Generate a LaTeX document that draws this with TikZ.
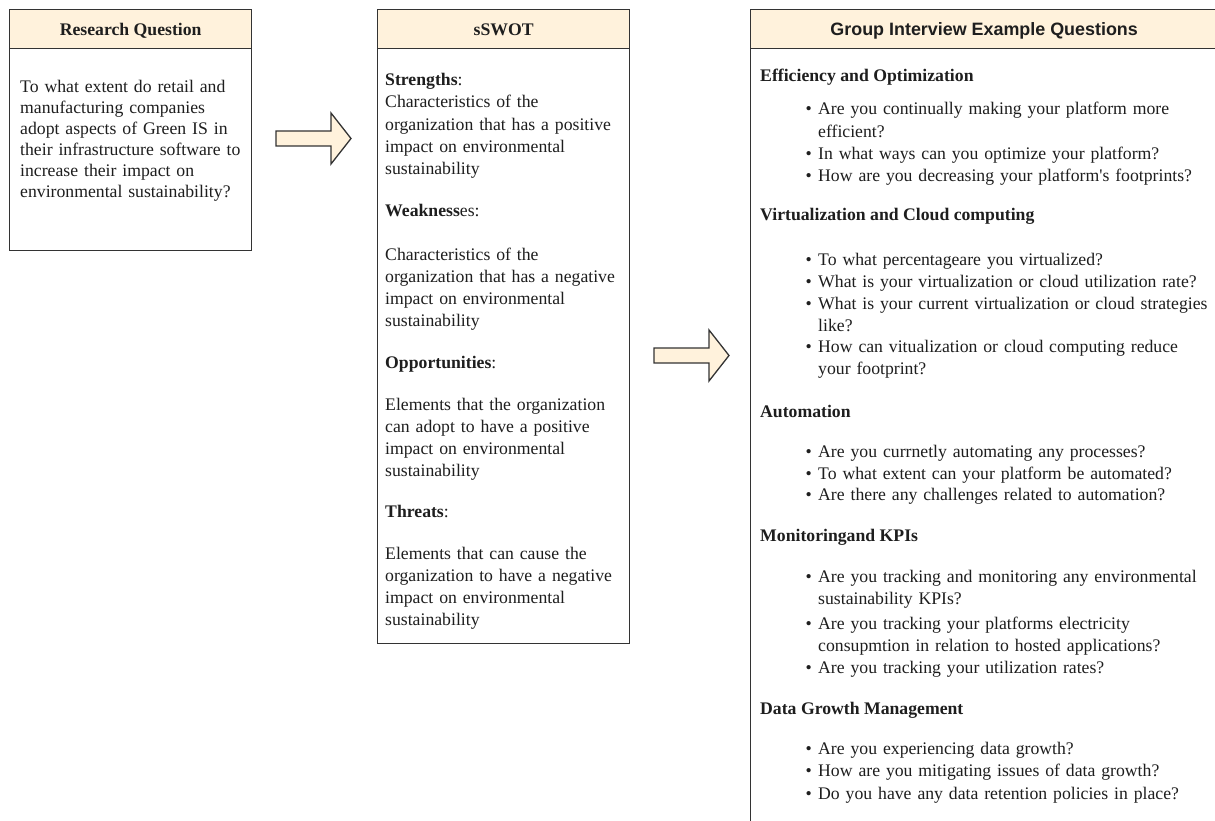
\documentclass[tikz,border=0pt]{standalone}
\usepackage{fontspec}
\setmainfont{Liberation Serif}
\newfontfamily\headsans{Liberation Sans}
\usepackage{tikz}
\usetikzlibrary{positioning}
\setlength{\parindent}{0pt}
\definecolor{headfill}{HTML}{FFF2DC}
\definecolor{linegray}{HTML}{333333}
\definecolor{textgray}{HTML}{1E1E1E}
\newcommand{\bodyfont}{\fontsize{17.7}{22.3}\selectfont}
\newcommand{\bul}{\llap{\textbullet\hspace{6.5pt}}}

\begin{document}
\begin{tikzpicture}[x=1pt, y=-1pt,
  panel/.style={draw=linegray, line width=1.3pt, fill=white, inner sep=0pt, anchor=north west},
  headbar/.style={draw=linegray, line width=1.3pt, fill=headfill, inner sep=0pt, anchor=north west,
    minimum height=39pt, text height=15pt, text depth=2pt, font=\bodyfont\bfseries, text=textgray},
  body/.style={anchor=base west, inner sep=0pt, align=left, font=\bodyfont, text=textgray},
  blockarrow/.style={draw=linegray, line width=1.3pt, fill=headfill, line join=miter}]
\useasboundingbox (0,0) rectangle (1215,821);

% boxes
\node[panel, minimum width=242pt, minimum height=241pt] (rq) at (9,9) {};
\node[headbar, minimum width=242pt] (rqhead) at (rq.north west) {Research Question};
\node[panel, minimum width=252pt, minimum height=634pt] (swot) at (377,9) {};
\node[headbar, minimum width=252pt] (swothead) at (swot.north west) {sSWOT};
\node[panel, minimum width=467pt, minimum height=830pt] (giq) at (750,9) {};
\node[headbar, minimum width=467pt, font=\headsans\fontsize{17.9}{22}\selectfont\bfseries] (giqhead) at (giq.north west) {Group Interview Example Questions};

% arrows
\coordinate (a1) at (276,138.5);
\draw[blockarrow] (a1) ++(0,-7.5) -- ++(55,0) -- ++(0,-18) -- ++(20,25.5) -- ++(-20,25.5) -- ++(0,-18) -- ++(-55,0) -- cycle;
\coordinate (a2) at (654,355.5);
\draw[blockarrow] (a2) ++(0,-7.5) -- ++(55,0) -- ++(0,-18) -- ++(20,25.5) -- ++(-20,25.5) -- ++(0,-18) -- ++(-55,0) -- cycle;

% research question
\node[body, text width=228pt, font=\fontsize{17.7}{21}\selectfont] (rqtext) at (20,93) {To what extent do retail and\\manufacturing companies\\adopt aspects of Green IS in\\their infrastructure software to\\increase their impact on\\environmental sustainability?};

% sSWOT
\node[body] (str) at (385,86) {\textbf{Strengths}:};
\node[body, text width=240pt] (strtxt) at (385,108) {Characteristics of the\\organization that has a positive\\impact on environmental\\sustainability};
\node[body] (weak) at (385,216) {\textbf{Weakness}es:};
\node[body, text width=240pt] (weaktxt) at (385,260) {Characteristics of the\\organization that has a negative\\impact on environmental\\sustainability};
\node[body] (opp) at (385,368) {\textbf{Opportunities}:};
\node[body, text width=240pt] (opptxt) at (385,410) {Elements that the organization\\can adopt to have a positive\\impact on environmental\\sustainability};
\node[body] (thr) at (385,517) {\textbf{Threats}:};
\node[body, text width=240pt] (thrtxt) at (385,559) {Elements that can cause the\\organization to have a negative\\impact on environmental\\sustainability};

% interview questions
\node[body, font=\bodyfont\bfseries] (eff) at (760,82) {Efficiency and Optimization};
\node[body, font=\bodyfont\bfseries] (virt) at (760,220) {Virtualization and Cloud computing};
\node[body, font=\bodyfont\bfseries] (auto) at (760,417) {Automation};
\node[body, font=\bodyfont\bfseries] (mon) at (760,541) {Monitoringand KPIs};
\node[body, font=\bodyfont\bfseries] (dgm) at (760,714) {Data Growth Management};

\foreach \yy/\txt in {115/{Are you continually making your platform more\\efficient?},
    160/{In what ways can you optimize your platform?},
    182/{How are you decreasing your platform\textquotesingle s footprints?},
    265/{To what percentageare you virtualized?},
    287/{What is your virtualization or cloud utilization rate?},
    309/{What is your current virtualization or cloud strategies\\like?},
    352/{How can vitualization or cloud computing reduce\\your footprint?},
    457/{Are you currnetly automating any processes?},
    479/{To what extent can your platform be automated?},
    500/{Are there any challenges related to automation?},
    582/{Are you tracking and monitoring any environmental\\sustainability KPIs?},
    629/{Are you tracking your platforms electricity\\consupmtion in relation to hosted applications?},
    673/{Are you tracking your utilization rates?},
    754/{Are you experiencing data growth?},
    776/{How are you mitigating issues of data growth?},
    799/{Do you have any data retention policies in place?}}
  \node[body, text width=440pt] (q-\yy) at (818,\yy) {\bul\txt};
\end{tikzpicture}
\end{document}
